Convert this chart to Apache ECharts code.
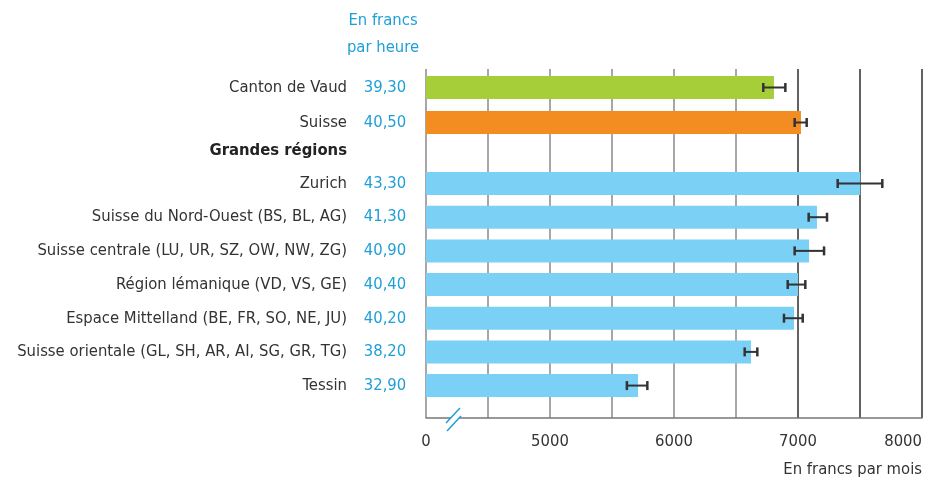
<!DOCTYPE html>
<html>
<head>
<meta charset="utf-8">
<script src="https://cdn.jsdelivr.net/npm/echarts@6/dist/echarts.min.js"></script>
<style>html,body{margin:0;padding:0;background:#fff}#c{width:938px;height:480px}</style>
</head>
<body>
<div id="c"></div>
<script>
// ---- data ----
const topCategories = ['Canton de Vaud', 'Suisse'];
const topHourly = ['39,30', '40,50'];
const topMonthly = [6806, 7024];
const topLow = [6720, 6973];
const topHigh = [6898, 7070];

const regionHeader = 'Grandes régions';
const regionCategories = [
  'Zurich',
  'Suisse du Nord-Ouest (BS, BL, AG)',
  'Suisse centrale (LU, UR, SZ, OW, NW, ZG)',
  'Région lémanique (VD, VS, GE)',
  'Espace Mittelland (BE, FR, SO, NE, JU)',
  'Suisse orientale (GL, SH, AR, AI, SG, GR, TG)',
  'Tessin'
];
const regionHourly = ['43,30', '41,30', '40,90', '40,40', '40,20', '38,20', '32,90'];
const regionMonthly = [7502, 7153, 7089, 7000, 6968, 6621, 5710];
const regionLow = [7320, 7086, 6973, 6917, 6887, 6570, 5620];
const regionHigh = [7680, 7234, 7210, 7059, 7038, 6672, 5785];

const xTickLabels = {4000: '0', 5000: '5000', 6000: '6000', 7000: '7000', 8000: '8000'};
const hourlyTitle = 'En francs\npar heure';
const monthlyTitle = 'En francs par mois';

// ---- styles ----
const FONT = "'DejaVu Sans Condensed','Liberation Sans',sans-serif";
const FS = 16.5;
const TXT = '#333333';
const BLUE_TXT = '#1f9fd8';
const C_VAUD = '#a6ce39';
const C_CH = '#f38d22';
const C_REG = '#7ad1f5';
const AX_MIN = 4000, AX_MAX = 8000;

const chart = echarts.init(document.getElementById('c'), null, {renderer: 'canvas'});

function hiddenX(gi) {
  return {type: 'value', gridIndex: gi, min: AX_MIN, max: AX_MAX, interval: 500, show: false};
}
function catAxis(gi, cats, hourly) {
  return {
    type: 'category', gridIndex: gi, inverse: true, data: cats,
    axisLine: {show: false}, axisTick: {show: false}, splitLine: {show: false},
    axisLabel: {
      margin: 14,
      formatter: (v, i) => '{n|' + v + '}{s| }{h|' + hourly[i] + '}',
      rich: {
        n: {fontSize: FS, fontFamily: FONT, color: TXT},
        s: {width: 11, fontSize: FS, fontFamily: FONT},
        h: {width: 54, align: 'left', fontSize: FS, fontFamily: FONT, color: BLUE_TXT}
      }
    }
  };
}
function errSeries(xi, yi, low, high) {
  return {
    type: 'custom', xAxisIndex: xi, yAxisIndex: yi, z: 5,
    data: low.map((l, i) => [l, high[i], i]),
    encode: {x: [0, 1], y: 2},
    renderItem: function (params, api) {
      const c = api.value(2);
      const a = api.coord([api.value(0), c]);
      const b = api.coord([api.value(1), c]);
      const h = 4.5;
      const st = {stroke: '#333333', lineWidth: 2};
      return {type: 'group', children: [
        {type: 'line', shape: {x1: a[0], y1: a[1], x2: b[0], y2: b[1]}, style: st},
        {type: 'line', shape: {x1: a[0], y1: a[1] - h, x2: a[0], y2: a[1] + h}, style: {stroke: '#333333', lineWidth: 2.5}},
        {type: 'line', shape: {x1: b[0], y1: b[1] - h, x2: b[0], y2: b[1] + h}, style: {stroke: '#333333', lineWidth: 2.5}}
      ]};
    }
  };
}

const option = {
  animation: false,
  backgroundColor: '#ffffff',
  grid: [
    {left: 426, right: 16, top: 69, bottom: 62, outerBoundsMode: 'none', containLabel: false},
    {left: 426, right: 16, top: 70, height: 70, outerBoundsMode: 'none', containLabel: false},
    {left: 426, right: 16, top: 166.7, height: 235.7, outerBoundsMode: 'none', containLabel: false}
  ],
  xAxis: [
    {
      type: 'value', gridIndex: 0, min: AX_MIN, max: AX_MAX, interval: 500,
      axisLine: {show: true, lineStyle: {color: '#777777', width: 1.5}},
      axisTick: {show: false},
      axisLabel: {
        margin: 15, fontSize: FS, fontFamily: FONT, color: TXT,
        showMinLabel: true, showMaxLabel: true, hideOverlap: false,
        alignMaxLabel: 'right',
        formatter: v => xTickLabels[v] || ''
      },
      splitLine: {show: true, lineStyle: {
        width: 1.5,
        color: ['#8a8a8a', '#8a8a8a', '#8a8a8a', '#8a8a8a', '#8a8a8a', '#8a8a8a', '#2e2e2e', '#2e2e2e', '#2e2e2e']
      }},
      name: monthlyTitle, nameLocation: 'end', nameGap: 0,
      nameTextStyle: {align: 'right', verticalAlign: 'top', padding: [43, 0, 0, 0], fontSize: FS, fontFamily: FONT, color: TXT}
    },
    hiddenX(1),
    hiddenX(2)
  ],
  yAxis: [
    {type: 'category', gridIndex: 0, data: [''], show: false},
    catAxis(1, topCategories, topHourly),
    catAxis(2, regionCategories, regionHourly)
  ],
  series: [
    {
      type: 'bar', xAxisIndex: 1, yAxisIndex: 1, barWidth: 23,
      data: topMonthly.map((v, i) => ({value: v, itemStyle: {color: i === 0 ? C_VAUD : C_CH}}))
    },
    {
      type: 'bar', xAxisIndex: 2, yAxisIndex: 2, barWidth: 23,
      itemStyle: {color: C_REG},
      data: regionMonthly
    },
    errSeries(1, 1, topLow, topHigh),
    errSeries(2, 2, regionLow, regionHigh)
  ],
  graphic: [
    {type: 'text', x: 383, y: 7, style: {text: hourlyTitle, align: 'center', verticalAlign: 'top', lineHeight: 27, fontSize: FS, fontFamily: FONT, fill: BLUE_TXT}},
    {type: 'text', x: 347, y: 151, style: {text: regionHeader, align: 'right', verticalAlign: 'middle', fontSize: FS, fontWeight: 'bold', fontFamily: FONT, fill: '#222222'}},
    {type: 'polygon', shape: {points: [[446, 423], [460, 408], [461, 416], [447, 431]]}, style: {fill: '#ffffff'}, z: 100},
    {type: 'line', shape: {x1: 446, y1: 423, x2: 460, y2: 408}, style: {stroke: '#1f9fd8', lineWidth: 1.5}, z: 101},
    {type: 'line', shape: {x1: 447, y1: 431, x2: 461, y2: 416}, style: {stroke: '#1f9fd8', lineWidth: 1.5}, z: 101}
  ]
};
chart.setOption(option);
</script>
</body>
</html>
